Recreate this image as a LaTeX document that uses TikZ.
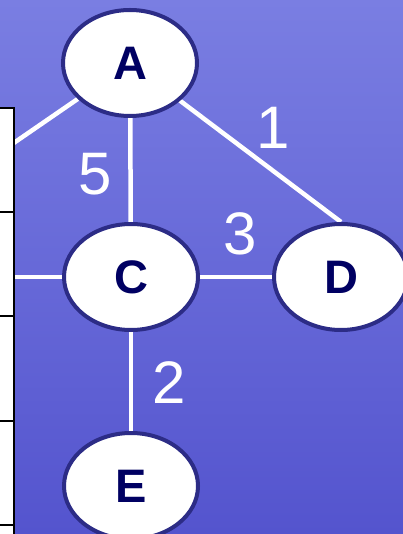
\documentclass[tikz,border=0pt]{standalone}
\usepackage{fontspec}
\setmainfont{Liberation Sans}
\usetikzlibrary{shapes.geometric}
\pgfdeclarelayer{backdrop}
\pgfdeclarelayer{edges}
\pgfsetlayers{backdrop,edges,main}
\definecolor{bgtop}{RGB}{122,126,226}
\definecolor{bgbot}{RGB}{84,84,206}
\definecolor{rim}{RGB}{44,44,134}
\definecolor{ink}{RGB}{0,0,98}
\begin{document}
\begin{tikzpicture}[x=1pt,y=-1pt,
  vertex/.style={ellipse,draw=rim,line width=4pt,fill=white,
    minimum width=134pt,minimum height=106pt,inner sep=0pt,
    text=ink,font=\fontsize{47}{47}\selectfont\bfseries},
  link/.style={draw=white,line width=4.5pt},
  weight/.style={text=white,font=\fontsize{60}{60}\selectfont,inner sep=0pt}]
  \useasboundingbox (0,0) rectangle (403,534);
  \clip (0,0) rectangle (403,534);
  % background
  \begin{pgfonlayer}{backdrop}
    \shade[top color=bgtop,bottom color=bgbot] (0,0) rectangle (403,534);
  \end{pgfonlayer}
  % graph nodes
  \coordinate (B) at (-181,277);
  \node[vertex] (A) at (130,63) {A};
  \node[vertex] (C) at (131,277) {C};
  \node[vertex] (D) at (341,277) {D};
  \node[vertex] (E) at (131,486) {E};
  % edges
  \begin{pgfonlayer}{edges}
    \path[link] (A) -- (B);
    \path[link] (C) -- (B);
    \path[link] (A) -- (C);
    \path[link] (A.center) -- (D.north);
    \path[link] (C) -- (D);
    \path[link] (C) -- (E);
  \end{pgfonlayer}
  % edge weights
  \node[weight] (w5) at (95,174) {5};
  \node[weight] (w1) at (273,128) {1};
  \node[weight] (w3) at (240,234) {3};
  \node[weight] (w2) at (169,383) {2};
  % table on the left
  \fill[white] (-10,108) rectangle (14,545);
  \draw[black,line width=2pt] (-10,108) -- (14,108) -- (14,545);
  \foreach \yy in {212,316,421,525}
    \draw[black,line width=2pt] (-10,\yy) -- (14,\yy);
\end{tikzpicture}
\end{document}
